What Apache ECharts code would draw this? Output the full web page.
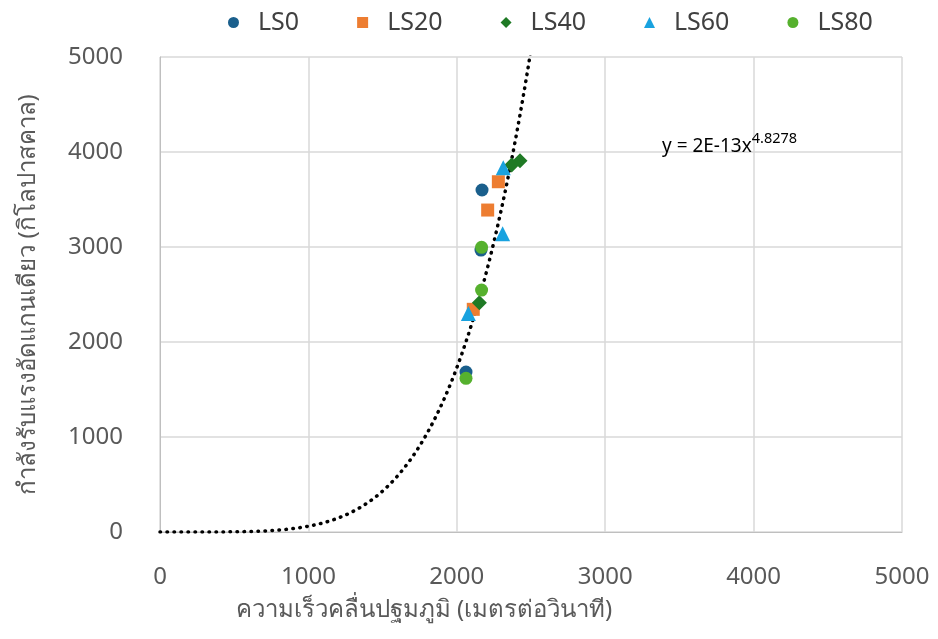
<!DOCTYPE html>
<html><head><meta charset="utf-8">
<script src="https://cdn.jsdelivr.net/npm/echarts@6/dist/echarts.min.js"></script>
<style>html,body{margin:0;padding:0;background:#fff}#c{width:938px;height:639px}</style>
</head><body><div id="c"></div>
<script>
const seriesNames = ['LS0','LS20','LS40','LS60','LS80'];
const ls0  = [[2170,3600],[2163,2968],[2062,1684]];
const ls20 = [[2280,3687],[2208,3389],[2111,2344]];
const ls40 = [[2426,3908],[2370,3863],[2152,2414]];
const ls60 = [[2313,3835],[2309,3140],[2078,2300]];
const ls80 = [[2167,2997],[2167,2547],[2062,1618]];
const trendCoef = 2e-13;
const trendExp = 4.8278;
const xTicks = [0,1000,2000,3000,4000,5000];
const yTicks = [0,1000,2000,3000,4000,5000];

const colors = ['#1A5F8C','#ED7D31','#1F7A25','#19A2DF','#56B12E'];
const symbols = ['circle','rect','diamond','triangle','circle'];
const datasets = [ls0, ls20, ls40, ls60, ls80];
const trend = [];
for (let x = 0; x <= 2520; x += 20) trend.push([x, trendCoef * Math.pow(x, trendExp)]);

const font = '"Noto Sans", "DejaVu Sans", sans-serif';
const chart = echarts.init(document.getElementById('c'));
const scatter = datasets.map((d, i) => ({
  name: seriesNames[i], type: 'scatter', data: d, symbol: symbols[i],
  symbolSize: symbols[i] === 'triangle' ? 15 : (symbols[i]==='diamond'?15:13),
  itemStyle: { color: colors[i], opacity: 1 }, z: 3
}));
chart.setOption({
  animation: false,
  grid: { left: 160, right: 36, top: 57, bottom: 107 },
  legend: {
    top: 5, left: 223, itemGap: 58, itemWidth: 11, itemHeight: 11,
    data: seriesNames.map(n => ({ name: n, itemStyle: { opacity: 1 } })),
    textStyle: { fontSize: 25, color: '#404040', fontFamily: font, padding: [0, 0, 0, 14] }
  },
  xAxis: {
    type: 'value', min: 0, max: 5000, interval: 1000,
    name: 'ความเร็วคลื่นปฐมภูมิ (เมตรต่อวินาที)', nameLocation: 'middle', nameGap: 66,
    nameTextStyle: { fontSize: 24, color: '#595959', fontFamily: font, padding: [0, 214, 0, 0] },
    axisLine: { show: true, lineStyle: { color: '#BFBFBF' } },
    axisTick: { show: false },
    axisLabel: { fontSize: 24, color: '#595959', margin: 33, fontFamily: font, formatter: v => String(v) },
    splitLine: { lineStyle: { color: '#D9D9D9', width: 1.5 } }
  },
  yAxis: {
    type: 'value', min: 0, max: 5000, interval: 1000,
    name: 'กำลังรับแรงอัดแกนเดียว (กิโลปาสคาล)', nameLocation: 'middle', nameGap: 120,
    nameTextStyle: { fontSize: 24, color: '#595959', fontFamily: font },
    axisLine: { show: true, lineStyle: { color: '#BFBFBF' } },
    axisTick: { show: false },
    axisLabel: { fontSize: 24, color: '#595959', margin: 37, fontFamily: font, formatter: v => String(v) },
    splitLine: { lineStyle: { color: '#D9D9D9', width: 1.5 } }
  },
  graphic: [{
    type: 'text', left: 662, top: 131, z: 10,
    style: {
      text: '{a|y = 2E-13x}{b|4.8278}',
      rich: {
        a: { fontSize: 19, fill: '#000', fontFamily: font, verticalAlign: 'bottom' },
        b: { fontSize: 14.5, fill: '#000', fontFamily: font, verticalAlign: 'top', padding: [0,0,10,0] }
      }
    }
  }],
  series: [{
    name: 'trend', type: 'line', data: trend, showSymbol: false, smooth: false, clip: true,
    lineStyle: { color: '#000', width: 3.5, type: [0.5, 6.5], cap: 'round' }, z: 2,
    silent: true
  }].concat(scatter)
});
</script></body></html>
